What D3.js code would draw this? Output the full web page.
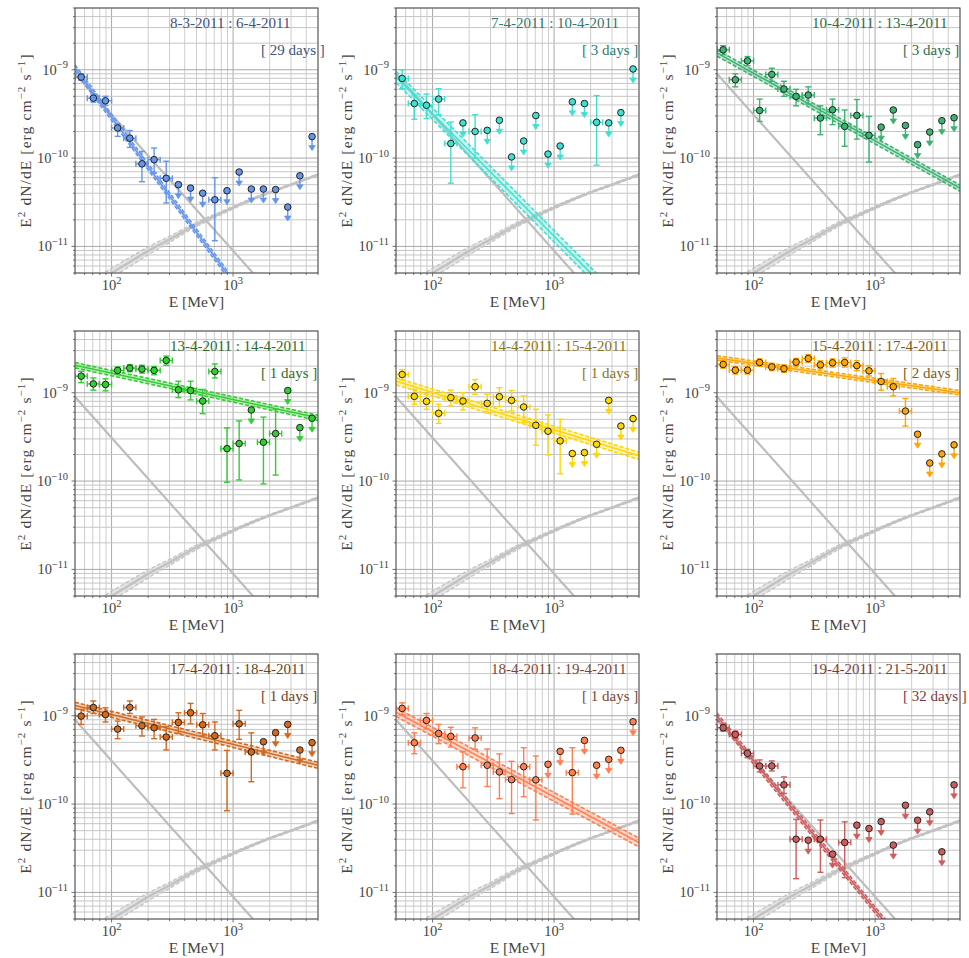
<!DOCTYPE html>
<html>
<head>
<meta charset="utf-8">
<script src="https://cdn.jsdelivr.net/npm/d3@7"></script>
<style>
  body { margin: 0; background: #fff; }
  svg { display: block; }
  text { font-family: "Liberation Serif", "Times New Roman", serif; }
</style>
</head>
<body>
<svg id="chart" width="969" height="958"></svg>
<script>
// energy bins (MeV): centres and edges, 0.1 decade wide
const energyCenters = [56.2, 70.8, 89.1, 112.2, 141.3, 177.8, 223.9, 281.8, 354.8, 446.7,
                       562.3, 707.9, 891.3, 1122, 1413, 1778, 2239, 2818, 3548, 4467];
const energyEdges = [50.1, 63.1, 79.4, 100, 125.9, 158.5, 199.5, 251.2, 316.2, 398.1, 501.2,
                     631.0, 794.3, 1000, 1259, 1585, 1995, 2512, 3162, 3981, 5012];

// one entry per panel
const periods = ["8-3-2011 : 6-4-2011", "7-4-2011 : 10-4-2011", "10-4-2011 : 13-4-2011",
                 "13-4-2011 : 14-4-2011", "14-4-2011 : 15-4-2011", "15-4-2011 : 17-4-2011",
                 "17-4-2011 : 18-4-2011", "18-4-2011 : 19-4-2011", "19-4-2011 : 21-5-2011"];
const durations = ["[ 29 days ]", "[ 3 days ]", "[ 3 days ]", "[ 1 days ]", "[ 1 days ]",
                   "[ 2 days ]", "[ 1 days ]", "[ 1 days ]", "[ 32 days ]"];
const colors = ["#6495ed", "#40e0d0", "#3cb371", "#32cd32", "#ffd700",
                "#ffa500", "#d2691e", "#ff7f50", "#cd5c5c"];
const textColors = ["#415280", "#2e7a74", "#2f6e4c", "#2e6b2e", "#8a7516",
                    "#7d5c1c", "#6e3f22", "#7a4636", "#7a3a3a"];

// E^2 dN/dE (erg cm^-2 s^-1); null error = upper limit
const flux = [
  [8.26e-10, 4.77e-10, 4.45e-10, 2.19e-10, 1.68e-10, 8.6e-11, 9.6e-11, 5.9e-11, 5.0e-11, 4.57e-11, 4.0e-11, 3.37e-11, 4.27e-11, 6.95e-11, 4.46e-11, 4.46e-11, 4.4e-11, 2.79e-11, 6.3e-11, 1.75e-10],
  [7.97e-10, 4.14e-10, 3.96e-10, 4.65e-10, 1.46e-10, 2.5e-10, 2.0e-10, 2.06e-10, 2.68e-10, 1.03e-10, 1.56e-10, 3.03e-10, 1.11e-10, 1.37e-10, 4.33e-10, 4.14e-10, 2.54e-10, 2.5e-10, 3.27e-10, 1.02e-9],
  [1.68e-9, 7.7e-10, 1.26e-9, 3.46e-10, 8.85e-10, 6.04e-10, 4.99e-10, 5.17e-10, 2.84e-10, 3.52e-10, 2.28e-10, 3.04e-10, 1.81e-10, 2.24e-10, 3.5e-10, 2.34e-10, 1.42e-10, 1.97e-10, 2.65e-10, 2.86e-10],
  [1.54e-9, 1.26e-9, 1.24e-9, 1.79e-9, 1.9e-9, 1.85e-9, 1.79e-9, 2.32e-9, 1.08e-9, 1.06e-9, 8.05e-10, 1.74e-9, 2.33e-10, 2.66e-10, 6.38e-10, 2.75e-10, 3.45e-10, 1.06e-9, 4.03e-10, 5.14e-10],
  [1.61e-9, 9.1e-10, 7.98e-10, 5.85e-10, 8.8e-10, 8.05e-10, 1.17e-9, 7.58e-10, 9.0e-10, 8.2e-10, 6.9e-10, 4.28e-10, 3.67e-10, 2.85e-10, 2.05e-10, 2.1e-10, 2.61e-10, 8.2e-10, 4.2e-10, 5.1e-10],
  [2.09e-9, 1.8e-9, 1.8e-9, 2.2e-9, 1.96e-9, 1.87e-9, 2.22e-9, 2.44e-9, 2.07e-9, 2.18e-9, 2.2e-9, 2.03e-9, 1.77e-9, 1.34e-9, 1.17e-9, 6.2e-10, 3.39e-10, 1.6e-10, 2.03e-10, 2.57e-10],
  [9.9e-10, 1.24e-9, 1.03e-9, 7.06e-10, 1.24e-9, 7.7e-10, 7.3e-10, 5.74e-10, 8.4e-10, 1.08e-9, 7.9e-10, 5.94e-10, 2.23e-10, 8.1e-10, 3.88e-10, 5.08e-10, 6.43e-10, 7.98e-10, 4.09e-10, 4.96e-10],
  [1.21e-9, 4.95e-10, 8.85e-10, 6.3e-10, 5.83e-10, 2.65e-10, 5.6e-10, 2.75e-10, 2.31e-10, 1.89e-10, 2.65e-10, 1.88e-10, 2.82e-10, 3.95e-10, 2.27e-10, 5.26e-10, 2.75e-10, 3.21e-10, 4.06e-10, 8.55e-10],
  [7.32e-10, 6.15e-10, 3.75e-10, 2.7e-10, 2.7e-10, 1.65e-10, 4.0e-11, 3.9e-11, 4.0e-11, 2.71e-11, 3.67e-11, 5.77e-11, 5.29e-11, 6.34e-11, 3.43e-11, 9.7e-11, 6.56e-11, 8.17e-11, 2.88e-11, 1.65e-10]
];
const fluxLow = [
  [7.6e-10, 4.3e-10, 3.95e-10, 1.76e-10, 1.32e-10, 5.4e-11, 6.8e-11, 3.1e-11, null, null, null, 1.16e-11, null, null, null, null, null, null, null, null],
  [6.1e-10, 2.75e-10, 2.8e-10, 3.1e-10, 5.2e-11, null, 1.0e-10, null, null, null, null, null, null, null, null, null, 8.3e-11, null, null, null],
  [1.48e-9, 6.4e-10, 1.11e-9, 2.6e-10, 7.4e-10, 5.0e-10, 3.9e-10, 4.1e-10, 1.84e-10, 2.39e-10, 1.36e-10, 1.64e-10, 9.0e-11, null, null, null, null, null, null, null],
  [1.3e-9, 1.07e-9, 1.05e-9, 1.61e-9, 1.73e-9, 1.67e-9, 1.6e-9, 2.05e-9, 8.8e-10, 8.3e-10, 5.8e-10, 1.47e-9, 9.7e-11, 1.03e-10, null, 9.3e-11, 1.17e-10, null, null, null],
  [1.39e-9, 7.4e-10, 6.5e-10, 4.5e-10, 7.1e-10, 6.4e-10, 9.6e-10, 5.9e-10, 6.95e-10, 6.2e-10, 4.6e-10, 2.55e-10, 1.98e-10, 1.21e-10, null, null, null, null, null, null],
  [1.9e-9, 1.63e-9, 1.63e-9, 2.0e-9, 1.78e-9, 1.7e-9, 2.02e-9, 2.2e-9, 1.86e-9, 1.95e-9, 1.95e-9, 1.78e-9, 1.55e-9, 1.07e-9, 9.2e-10, 4.2e-10, null, null, null, null],
  [7.98e-10, 1.06e-9, 8.5e-10, 5.5e-10, 1.06e-9, 5.9e-10, 5.5e-10, 4.1e-10, 6.3e-10, 8.1e-10, 5.9e-10, 4.1e-10, 8.4e-11, 5.4e-10, 1.79e-10, null, null, null, null, null],
  [1.03e-9, 3.72e-10, 7.1e-10, 4.83e-10, 4.43e-10, 1.53e-10, 4.17e-10, 1.58e-10, 1.15e-10, 7.8e-11, 1.21e-10, 6.6e-11, null, null, 7.7e-11, null, null, null, null, null],
  [6.7e-10, 5.6e-10, 3.35e-10, 2.31e-10, 2.37e-10, 1.32e-10, 1.43e-11, null, 1.69e-11, null, 1.47e-11, null, null, null, null, null, null, null, null, null]
];
const fluxHigh = [
  [9.0e-10, 5.3e-10, 5.0e-10, 2.45e-10, 2.05e-10, 1.19e-10, 1.3e-10, 9.2e-11, null, null, null, 6.0e-11, null, null, null, null, null, null, null, null],
  [1.0e-9, 5.2e-10, 5.3e-10, 6.1e-10, 2.56e-10, null, 3.1e-10, null, null, null, null, null, null, null, null, null, 5.1e-10, null, null, null],
  [1.87e-9, 9.0e-10, 1.41e-9, 4.65e-10, 1.04e-9, 7.4e-10, 6.0e-10, 6.4e-10, 3.9e-10, 4.65e-10, 3.5e-10, 4.6e-10, 2.96e-10, null, null, null, null, null, null, null],
  [1.75e-9, 1.47e-9, 1.44e-9, 1.96e-9, 2.08e-9, 2.05e-9, 1.98e-9, 2.6e-9, 1.35e-9, 1.35e-9, 1.09e-9, 2.12e-9, 4.0e-10, 4.8e-10, null, 5.3e-10, 6.5e-10, null, null, null],
  [1.83e-9, 1.09e-9, 9.6e-10, 7.4e-10, 1.07e-9, 1.0e-9, 1.41e-9, 9.6e-10, 1.14e-9, 1.06e-9, 9.2e-10, 6.5e-10, 5.6e-10, 5.0e-10, null, null, null, null, null, null],
  [2.3e-9, 1.98e-9, 1.98e-9, 2.42e-9, 2.15e-9, 2.06e-9, 2.45e-9, 2.7e-9, 2.3e-9, 2.42e-9, 2.48e-9, 2.3e-9, 2.02e-9, 1.65e-9, 1.45e-9, 8.6e-10, null, null, null, null],
  [1.18e-9, 1.47e-9, 1.23e-9, 8.7e-10, 1.47e-9, 9.7e-10, 9.1e-10, 7.5e-10, 1.08e-9, 1.38e-9, 1.06e-9, 8.5e-10, 4.05e-10, 1.15e-9, 6.4e-10, null, null, null, null, null],
  [1.4e-9, 6.4e-10, 1.06e-9, 7.98e-10, 7.4e-10, 3.9e-10, 7.3e-10, 4.2e-10, 3.7e-10, 3.05e-10, 4.35e-10, 3.5e-10, null, null, 4.35e-10, null, null, null, null, null],
  [8.0e-10, 6.7e-10, 4.17e-10, 3.16e-10, 3.08e-10, 2.03e-10, 6.7e-11, null, 6.6e-11, null, 6.3e-11, null, null, null, null, null, null, null, null, null]
];

// power-law fit per panel: value at 50 MeV and 5000 MeV, band half-width (dex)
const fitAt50 = [1.05e-9, 8.3e-10, 1.55e-9, 2.05e-9, 1.35e-9, 2.48e-9, 1.31e-9, 1.1e-9, 9.9e-10];
const fitAt5000 = [2.0e-13, 1.4e-12, 4.57e-11, 5.2e-10, 1.93e-10, 1.0e-9, 2.75e-10, 3.67e-11, 4.2e-13];
const fitSpread = [0.035, 0.065, 0.035, 0.03, 0.04, 0.025, 0.035, 0.05, 0.035];

// steady grey components, same in every panel
const pulsarEnergy = [50, 5000];
const pulsarFlux = [9.0e-10, 7.5e-13];
const nebulaEnergy = [80, 100, 150, 200, 300, 500, 700, 1000, 1500, 2000, 3000, 5000];
const nebulaFlux = [4.1e-12, 5.0e-12, 7.0e-12, 8.9e-12, 1.2e-11, 1.78e-11, 2.2e-11, 2.75e-11, 3.5e-11, 4.1e-11, 5.0e-11, 6.5e-11];
const nebulaSpread = [0.06, 0.055, 0.05, 0.045, 0.035, 0.025, 0.02, 0.015, 0.012, 0.01, 0.01, 0.01];

const xTickLabels = [[100, "2"], [1000, "3"]];
const yTickLabels = [[1e-9, "\u22129"], [1e-10, "\u221210"], [1e-11, "\u221211"]];

// layout
const plotW = 243, plotH = 265;
const colLeft = [75, 396, 717];
const rowTop = [8, 331, 654];
const serif = "Liberation Serif";

const x = d3.scaleLog().domain([50, 5000]).range([0, plotW]);
const y = d3.scaleLog().domain([5e-12, 5e-9]).range([plotH, 0]);

const svg = d3.select("#chart");
const defs = svg.append("defs");

const isMajor = v => Math.abs(Math.log10(v) - Math.round(Math.log10(v))) < 1e-6;

function addPower(sel, exp, sup) {
    sel.append("tspan").text("10");
    sel.append("tspan").attr("dy", -6.5).attr("font-size", sup).text(exp);
}

periods.forEach(function(period, p) {
    const left = colLeft[p % 3], top = rowTop[Math.floor(p / 3)];
    const color = colors[p];
    const g = svg.append("g").attr("transform", `translate(${left},${top})`);

    defs.append("clipPath").attr("id", "clip" + p)
        .append("rect").attr("width", plotW).attr("height", plotH);

    // grid
    const grid = g.append("g");
    x.ticks().forEach(v => {
        grid.append("line")
            .attr("x1", x(v)).attr("x2", x(v)).attr("y1", 0).attr("y2", plotH)
            .attr("stroke", isMajor(v) ? "#a9a9a9" : "#cdcdcd").attr("stroke-width", 1);
    });
    y.ticks().forEach(v => {
        grid.append("line")
            .attr("y1", y(v)).attr("y2", y(v)).attr("x1", 0).attr("x2", plotW)
            .attr("stroke", isMajor(v) ? "#a9a9a9" : "#c6c6c6").attr("stroke-width", 1);
    });

    const body = g.append("g").attr("clip-path", `url(#clip${p})`);

    // grey nebula band
    const neb = nebulaEnergy.map((e, i) => ({ e: e, v: nebulaFlux[i], s: nebulaSpread[i] }));
    body.append("path").datum(neb)
        .attr("d", d3.area().curve(d3.curveMonotoneX)
            .x(d => x(d.e)).y0(d => y(d.v * Math.pow(10, -d.s))).y1(d => y(d.v * Math.pow(10, d.s))))
        .attr("fill", "#d4d4d4").attr("opacity", 0.6);
    [-1, 1].forEach(sign => {
        body.append("path").datum(neb)
            .attr("d", d3.line().curve(d3.curveMonotoneX)
                .x(d => x(d.e)).y(d => y(d.v * Math.pow(10, sign * d.s))))
            .attr("fill", "none").attr("stroke", "#c4c4c4").attr("stroke-width", 1.3)
            .attr("stroke-dasharray", "4,2");
    });
    body.append("path").datum(neb)
        .attr("d", d3.line().curve(d3.curveMonotoneX).x(d => x(d.e)).y(d => y(d.v)))
        .attr("fill", "none").attr("stroke", "#c2c2c2").attr("stroke-width", 2.4);

    // grey pulsar line
    body.append("path").datum(pulsarEnergy.map((e, i) => [e, pulsarFlux[i]]))
        .attr("d", d3.line().x(d => x(d[0])).y(d => y(d[1])))
        .attr("fill", "none").attr("stroke", "#bdbdbd").attr("stroke-width", 2.2);

    // fit band
    const fit = [[50, fitAt50[p]], [5000, fitAt5000[p]]];
    const s = Math.pow(10, fitSpread[p]);
    body.append("path").datum(fit)
        .attr("d", d3.area().x(d => x(d[0])).y0(d => y(d[1] / s)).y1(d => y(d[1] * s)))
        .attr("fill", color).attr("opacity", 0.3);
    [1 / s, s].forEach(f => {
        body.append("path").datum(fit)
            .attr("d", d3.line().x(d => x(d[0])).y(d => y(d[1] * f)))
            .attr("fill", "none").attr("stroke", color).attr("stroke-width", 1.6)
            .attr("stroke-dasharray", "4,2");
    });
    body.append("path").datum(fit)
        .attr("d", d3.line().x(d => x(d[0])).y(d => y(d[1])))
        .attr("fill", "none").attr("stroke", color).attr("stroke-width", 1.5);

    // data points
    const pts = g.append("g").attr("clip-path", `url(#clip${p})`);
    energyCenters.forEach(function(e, i) {
        const v = flux[p][i], lo = fluxLow[p][i], hi = fluxHigh[p][i];
        const cx = x(e), cy = y(v);
        const eb = pts.append("g").attr("stroke", color).attr("stroke-width", 1.4).attr("fill", "none");
        if (lo !== null) {
            const x0 = x(energyEdges[i]), x1 = x(energyEdges[i + 1]);
            const y0 = y(lo), y1 = y(hi);
            eb.append("line").attr("x1", x0).attr("x2", x1).attr("y1", cy).attr("y2", cy);
            eb.append("line").attr("x1", x0).attr("x2", x0).attr("y1", cy - 3).attr("y2", cy + 3);
            eb.append("line").attr("x1", x1).attr("x2", x1).attr("y1", cy - 3).attr("y2", cy + 3);
            eb.append("line").attr("x1", cx).attr("x2", cx).attr("y1", y0).attr("y2", y1);
            eb.append("line").attr("x1", cx - 3).attr("x2", cx + 3).attr("y1", y0).attr("y2", y0);
            eb.append("line").attr("x1", cx - 3).attr("x2", cx + 3).attr("y1", y1).attr("y2", y1);
        } else {
            // upper limit arrow
            eb.append("line").attr("x1", cx).attr("x2", cx).attr("y1", cy).attr("y2", cy + 11);
            eb.append("path")
                .attr("d", `M${cx - 3.2},${cy + 9}L${cx + 3.2},${cy + 9}L${cx},${cy + 14}Z`)
                .attr("fill", color).attr("stroke-width", 0.8);
        }
        pts.append("circle").attr("cx", cx).attr("cy", cy).attr("r", 3.3)
            .attr("fill", color).attr("stroke", "#222").attr("stroke-width", 1);
    });

    // frame and ticks
    g.append("rect").attr("width", plotW).attr("height", plotH)
        .attr("fill", "none").attr("stroke", "#4d4d4d").attr("stroke-width", 1);
    x.ticks().forEach(v => {
        const len = isMajor(v) ? 3.5 : 2;
        g.append("line").attr("x1", x(v)).attr("x2", x(v)).attr("y1", plotH).attr("y2", plotH + len)
            .attr("stroke", "#4d4d4d").attr("stroke-width", 0.8);
    });
    y.ticks().forEach(v => {
        const len = isMajor(v) ? 3.5 : 2;
        g.append("line").attr("y1", y(v)).attr("y2", y(v)).attr("x1", 0).attr("x2", -len)
            .attr("stroke", "#4d4d4d").attr("stroke-width", 0.8);
    });

    // tick labels
    xTickLabels.forEach(function(t) {
        const lab = g.append("text").attr("x", x(t[0])).attr("y", plotH + 17)
            .attr("font-family", serif).attr("text-anchor", "middle")
            .attr("font-size", 14.5).attr("fill", "#444");
        addPower(lab, t[1], 10.5);
    });
    yTickLabels.forEach(function(t) {
        const lab = g.append("text").attr("x", -7).attr("y", y(t[0]) + 5)
            .attr("font-family", serif).attr("text-anchor", "end")
            .attr("font-size", 14.5).attr("fill", "#444");
        addPower(lab, t[1], 10.5);
    });

    // axis labels
    g.append("text").attr("x", plotW / 2).attr("y", plotH + 34)
        .attr("font-family", serif).attr("text-anchor", "middle")
        .attr("font-size", 15.5).attr("fill", "#444")
        .text("E [MeV]");
    const yl = g.append("text")
        .attr("transform", `translate(-44,${plotH / 2}) rotate(-90)`)
        .attr("font-family", serif).attr("text-anchor", "middle")
        .attr("font-size", 15.5).attr("fill", "#444")
        .attr("letter-spacing", 1.1);
    yl.append("tspan").text("E");
    yl.append("tspan").attr("dy", -6.5).attr("font-size", 11).text("2");
    yl.append("tspan").attr("dy", 6.5).text(" dN/dE [erg cm");
    yl.append("tspan").attr("dy", -6.5).attr("font-size", 11).text("\u22122");
    yl.append("tspan").attr("dy", 6.5).text(" s");
    yl.append("tspan").attr("dy", -6.5).attr("font-size", 11).text("\u22121");
    yl.append("tspan").attr("dy", 6.5).text("]");

    // period labels
    g.append("text").attr("x", 95).attr("y", 20)
        .attr("font-family", serif).attr("font-size", 15)
        .attr("fill", textColors[p]).text(period);
    g.append("text").attr("x", 186).attr("y", 47)
        .attr("font-family", serif).attr("font-size", 15)
        .attr("fill", textColors[p]).text(durations[p]);
});
</script>
</body>
</html>
